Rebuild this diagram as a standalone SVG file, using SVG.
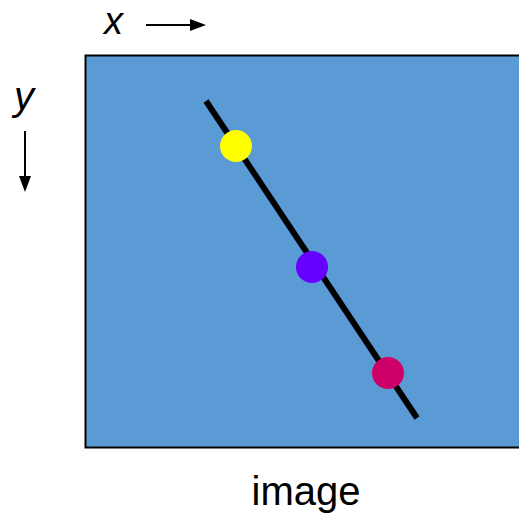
<svg xmlns="http://www.w3.org/2000/svg" width="519" height="516" viewBox="0 0 519 516">
<style>
.lbl{font-family:"Liberation Sans",Arial,sans-serif;fill:#000}
.ax{stroke:#000;stroke-width:2;fill:none}
</style>
<g id="image">
<rect x="85.5" y="55.5" width="440" height="392" fill="#5B9BD5" stroke="#000" stroke-width="2"/>
<text class="lbl" x="306" y="505" font-size="40" text-anchor="middle">image</text>
</g>
<g id="axes">
<text class="lbl" x="104" y="34" font-size="38" font-style="italic">x</text>
<line x1="146" y1="25" x2="190" y2="25" class="ax"/>
<polygon points="190,19 206,25 190,31" fill="#000"/>
<text class="lbl" x="14" y="110" font-size="40" font-style="italic">y</text>
<line x1="25" y1="131" x2="25" y2="176" class="ax"/>
<polygon points="19,176 25,192 31,176" fill="#000"/>
</g>
<g id="connectors">
<line x1="206" y1="101" x2="417" y2="418" stroke="#000" stroke-width="6"/>
</g>
<g id="p1"><circle cx="236" cy="146" r="16" fill="#FFFF00"/></g>
<g id="p2"><circle cx="312" cy="267" r="16" fill="#6600FF"/></g>
<g id="p3"><circle cx="388" cy="373" r="16" fill="#CC0066"/></g>
</svg>
